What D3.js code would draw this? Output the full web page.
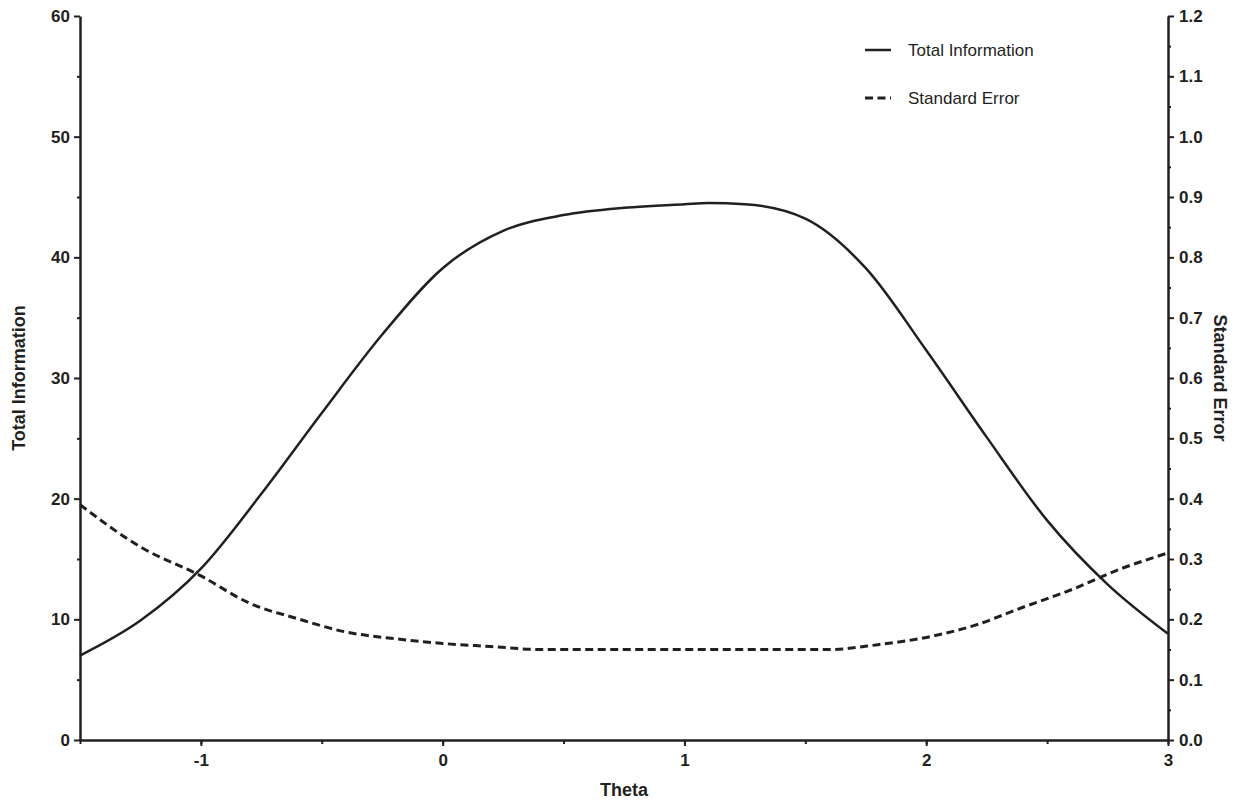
<!DOCTYPE html>
<html>
<head>
<meta charset="utf-8">
<script src="https://cdn.jsdelivr.net/npm/d3@7"></script>
<style>
  html, body { margin: 0; padding: 0; background: #fff; }
  svg { display: block; }
  text { font-family: "Liberation Sans", Arial, sans-serif; fill: #231f20; }
</style>
</head>
<body>
<svg id="chart" width="1240" height="800"></svg>
<script>
// ---- data ----
const infoTheta = [-1.5, -1.25, -1.0, -0.75, -0.5, -0.25, 0, 0.25, 0.5, 0.75, 1.0, 1.1, 1.25, 1.5, 1.75, 2.0, 2.25, 2.5, 2.75, 3.0];
const infoValues = [7.0, 9.9, 14.2, 20.4, 27.1, 33.6, 39.1, 42.2, 43.5, 44.1, 44.4, 44.5, 44.4, 43.2, 39.1, 32.3, 25.1, 18.2, 12.9, 8.8];
const seTheta = [-1.5, -1.25, -1.0, -0.8, -0.6, -0.4, -0.2, 0, 0.2, 0.4, 0.6, 0.8, 1.0, 1.2, 1.4, 1.6, 1.8, 2.0, 2.2, 2.4, 2.6, 2.8, 3.0];
const seValues = [0.39, 0.32, 0.272, 0.227, 0.201, 0.179, 0.168, 0.160, 0.155, 0.150, 0.150, 0.150, 0.150, 0.150, 0.150, 0.150, 0.158, 0.170, 0.190, 0.220, 0.249, 0.283, 0.310];
const xTicks = [-1, 0, 1, 2, 3];
const xTickLabels = ["-1", "0", "1", "2", "3"];
const yLeftTicks = [0, 10, 20, 30, 40, 50, 60];
const yRightTicks = [0, 0.1, 0.2, 0.3, 0.4, 0.5, 0.6, 0.7, 0.8, 0.9, 1.0, 1.1, 1.2];
const seriesNames = ["Total Information", "Standard Error"];
const xTitle = "Theta", yLeftTitle = "Total Information", yRightTitle = "Standard Error";

// ---- layout ----
const ink = "#231f20";
const L = 80, R = 1168, T = 16, B = 740;
const svg = d3.select("#chart");
const x = d3.scaleLinear().domain([-1.5, 3]).range([L, R]);
const yL = d3.scaleLinear().domain([0, 60]).range([B, T]);
const yR = d3.scaleLinear().domain([0, 1.2]).range([B, T]);

function styleAxis(g) {
  g.selectAll("path.domain").attr("stroke", ink).attr("stroke-width", 2.5);
  g.selectAll(".tick line").attr("stroke", ink).attr("stroke-width", 2);
  g.selectAll(".tick text").style("font-size", "17px").style("font-weight", "bold").attr("fill", ink);
}

// minor ticks
svg.append("g").attr("transform", `translate(0,${B})`)
  .call(d3.axisBottom(x).tickValues(d3.range(-1.5, 3.01, 0.5)).tickSize(4).tickFormat("").tickSizeOuter(0))
  .call(g => { g.select(".domain").remove(); g.selectAll(".tick line").attr("stroke", ink).attr("stroke-width", 2); });
svg.append("g").attr("transform", `translate(${L},0)`)
  .call(d3.axisLeft(yL).tickValues(d3.range(5, 60, 10)).tickSize(3).tickFormat(""))
  .call(g => { g.select(".domain").remove(); g.selectAll(".tick line").attr("stroke", ink).attr("stroke-width", 2); });
svg.append("g").attr("transform", `translate(${R},0)`)
  .call(d3.axisRight(yR).tickValues(d3.range(0.05, 1.2, 0.1)).tickSize(3).tickFormat(""))
  .call(g => { g.select(".domain").remove(); g.selectAll(".tick line").attr("stroke", ink).attr("stroke-width", 2); });

// major axes
svg.append("g").attr("transform", `translate(0,${B})`)
  .call(d3.axisBottom(x).tickValues(xTicks).tickSize(6).tickSizeOuter(0).tickPadding(8)
    .tickFormat((d, i) => xTickLabels[i]))
  .call(styleAxis);
svg.append("g").attr("transform", `translate(${L},0)`)
  .call(d3.axisLeft(yL).tickValues(yLeftTicks).tickSize(6).tickSizeOuter(0).tickPadding(4).tickFormat(d3.format("d")))
  .call(styleAxis);
svg.append("g").attr("transform", `translate(${R},0)`)
  .call(d3.axisRight(yR).tickValues(yRightTicks).tickSize(6).tickSizeOuter(0).tickPadding(5).tickFormat(d3.format(".1f")))
  .call(styleAxis);

// titles
svg.append("text").attr("x", (L + R) / 2).attr("y", 796).attr("text-anchor", "middle")
  .style("font-size", "18px").style("font-weight", "bold").text(xTitle);
svg.append("text").attr("transform", `translate(25,${(T + B) / 2}) rotate(-90)`).attr("text-anchor", "middle")
  .style("font-size", "18px").style("font-weight", "bold").text(yLeftTitle);
svg.append("text").attr("transform", `translate(1214,${(T + B) / 2}) rotate(90)`).attr("text-anchor", "middle")
  .style("font-size", "18px").style("font-weight", "bold").text(yRightTitle);

// lines
const infoData = infoTheta.map((t, i) => [t, infoValues[i]]);
const seData = seTheta.map((t, i) => [t, seValues[i]]);
svg.append("path").datum(infoData)
  .attr("fill", "none").attr("stroke", ink).attr("stroke-width", 2.5)
  .attr("d", d3.line().x(d => x(d[0])).y(d => yL(d[1])).curve(d3.curveMonotoneX));
svg.append("path").datum(seData)
  .attr("fill", "none").attr("stroke", ink).attr("stroke-width", 3).attr("stroke-dasharray", "8,4.5")
  .attr("d", d3.line().x(d => x(d[0])).y(d => yR(d[1])).curve(d3.curveMonotoneX));

// legend
const leg = svg.append("g");
[[50, null], [98, "8,4.5"]].forEach((row, i) => {
  leg.append("line").attr("x1", 865).attr("x2", 891).attr("y1", row[0]).attr("y2", row[0])
    .attr("stroke", ink).attr("stroke-width", i ? 3 : 2.5).attr("stroke-dasharray", row[1]);
  leg.append("text").attr("x", 908).attr("y", row[0]).attr("dy", "0.35em")
    .style("font-size", "17px").text(seriesNames[i]);
});
</script>
</body>
</html>
